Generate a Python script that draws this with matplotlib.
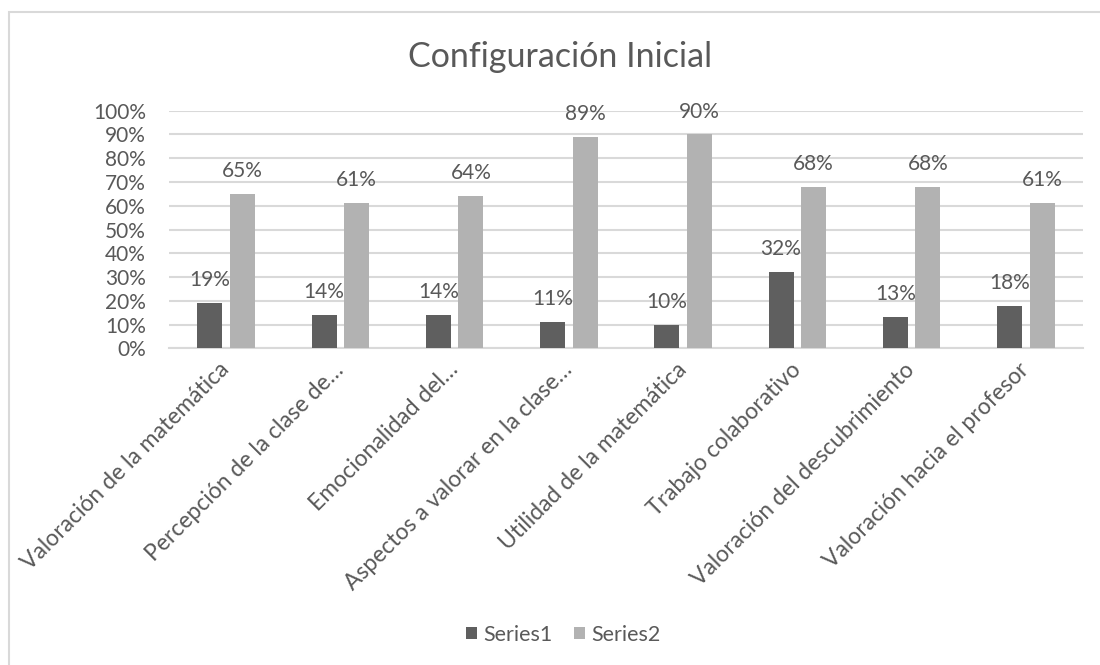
import matplotlib
matplotlib.use("Agg")
import matplotlib.pyplot as plt
from matplotlib.patches import Rectangle
import numpy as np

categories = [
    "Valoración de la matemática",
    "Percepción de la clase de…",
    "Emocionalidad del…",
    "Aspectos a valorar en la clase…",
    "Utilidad de la matemática",
    "Trabajo colaborativo",
    "Valoración del descubrimiento",
    "Valoración hacia el profesor",
]
series1 = [19, 14, 14, 11, 10, 32, 13, 18]
series2 = [65, 61, 64, 89, 90, 68, 68, 61]
series_names = ["Series1", "Series2"]
yticks = [0, 10, 20, 30, 40, 50, 60, 70, 80, 90, 100]

TEXT = "#595959"
DARK = "#5f5f5f"
LIGHT = "#b2b2b2"
GRID = "#d9d9d9"

plt.rcParams["font.family"] = ["Lato", "DejaVu Sans"]

W, H = 1100, 665
fig = plt.figure(figsize=(W / 100, H / 100), dpi=100)
ax = fig.add_axes([169 / W, 1 - 348.3 / H, (1083 - 169) / W, (348.3 - 110.7) / H])

x = np.arange(len(categories))
bw = 0.219
off = 0.143
b1 = ax.bar(x - off, series1, bw, color=DARK, label=series_names[0], zorder=3)
b2 = ax.bar(x + off, series2, bw, color=LIGHT, label=series_names[1], zorder=3)

for bars, vals in ((b1, series1), (b2, series2)):
    for rect, v in zip(bars, vals):
        ax.annotate(f"{v}%", (rect.get_x() + rect.get_width() / 2, v),
                    xytext=(0, 12.2), textcoords="offset points",
                    ha="center", va="baseline", fontsize=15, color=TEXT, zorder=4)

ax.set_xlim(-0.5, len(categories) - 0.5)
ax.set_ylim(0, 100)
ax.set_yticks(yticks)
ax.set_yticklabels([f"{t}%" for t in yticks], fontsize=15, color=TEXT)
ax.tick_params(axis="y", length=0, pad=16.5)
ax.yaxis.grid(True, color=GRID, linewidth=1.5, zorder=0)
ax.set_axisbelow(True)
for s in ("left", "right", "top"):
    ax.spines[s].set_visible(False)
ax.spines["bottom"].set_color(GRID)
ax.spines["bottom"].set_linewidth(1.5)

ax.set_xticks(x)
ax.set_xticklabels(categories, rotation=45, ha="right", va="center",
                   rotation_mode="anchor", fontsize=16.5, color=TEXT)
ax.tick_params(axis="x", length=0, pad=13)

fig.text(560.5 / W, 1 - 66.7 / H, "Configuración Inicial", ha="center",
         va="baseline", fontsize=24.5, color=TEXT)

fig.legend(handles=[b1, b2], labels=series_names, loc="center",
           bbox_to_anchor=(563 / W, 1 - 635 / H), ncol=2, frameon=False,
           fontsize=15.5, handlelength=0.5, handleheight=0.5, handletextpad=0.3,
           columnspacing=1.0, labelcolor=TEXT)

fig.patches.append(Rectangle((9 / W, -0.1), 2, (H - 12) / H + 0.1,
                             transform=fig.transFigure, fill=False,
                             edgecolor=GRID, linewidth=1.5))

fig.savefig("out.png", dpi=100, facecolor="white")
